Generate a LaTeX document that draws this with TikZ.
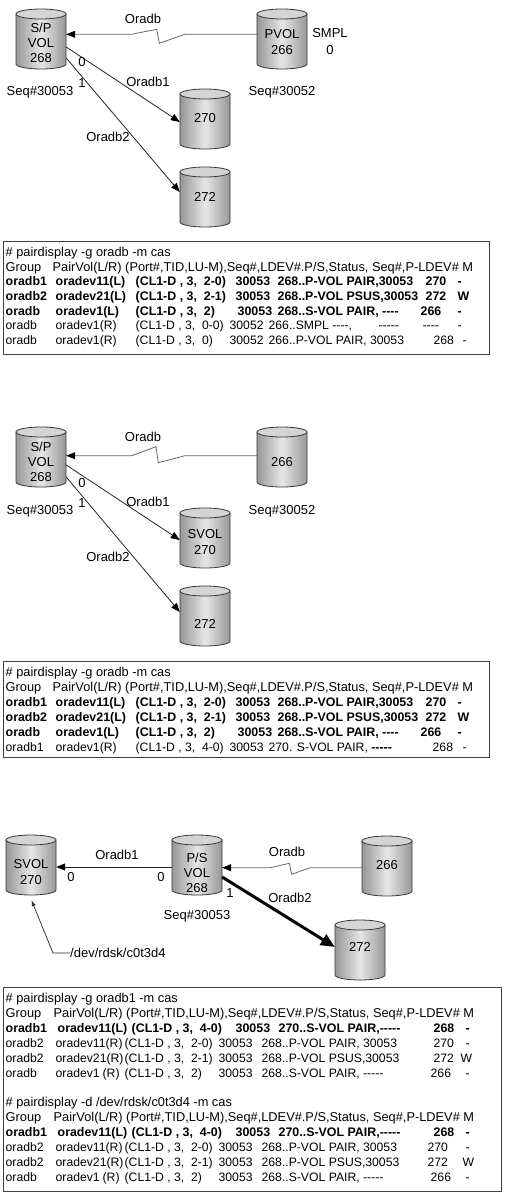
\documentclass[tikz,border=0pt]{standalone}
\usepackage{fontspec}
\setmainfont{Liberation Sans}
\usetikzlibrary{arrows.meta,calc}
\definecolor{cylside}{HTML}{979797}
\definecolor{cylmid}{HTML}{E6E6E6}
\definecolor{cyltop}{HTML}{D4D4D4}
\definecolor{cylline}{HTML}{383838}
\newcommand\tc[2]{\makebox[0pt][l]{\hspace*{\dimexpr#1pt-5pt\relax}#2}}
\newcommand\mkcyl[5]{%
  \shade[left color=cylside,right color=cylside,middle color=cylmid,draw=cylline,line width=0.8pt]
    (#2,#3+5) -- (#2,#3+55) arc[start angle=180,end angle=360,x radius=25pt,y radius=5pt] -- (#2+50,#3+5) -- cycle;
  \filldraw[fill=cyltop,draw=cylline,line width=0.8pt] (#2+25,#3+5) ellipse[x radius=25pt,y radius=5pt];
  \node[cylbox] (#1) at (#2+25,#3+30) {};
  \node[cyltext] (#1-t) at (#2+25,#3+30+#5) {#4};
}
\begin{document}
\begin{tikzpicture}[x=1pt,y=-1pt,
  cylbox/.style={rectangle,minimum width=50pt,minimum height=60pt,inner sep=0pt,draw=none},
  cyltext/.style={align=center,inner sep=0pt,font=\fontsize{13}{15.3}\selectfont},
  lbl/.style={inner sep=0pt,font=\fontsize{13}{15}\selectfont},
  trow/.style={anchor=west,inner sep=0pt,text height=9pt,text depth=0pt,font=\fontsize{12.8}{15}\selectfont},
  drow/.style={trow,font=\fontsize{12.2}{15}\selectfont},
  brow/.style={trow,font=\fontsize{12.4}{15}\selectfont\bfseries},
  tbox/.style={draw=black!75,line width=0.9pt},
  link/.style={draw=black!85,line width=0.8pt,-{Triangle[length=9pt,width=7pt,color=black]}},
  zlink/.style={draw=black!60,line width=0.8pt,-{Triangle[length=9pt,width=7pt,color=black]}},
  biglink/.style={draw=black,line width=3pt,-{Triangle[length=14pt,width=12pt]}},
  ptr/.style={draw=black!85,line width=0.7pt,-{Latex[length=6pt,width=4pt]}}]
\useasboundingbox (0,0) rectangle (505,1198);
\fill[white] (0,0) rectangle (505,1198);

% ================= diagram 1 =================
\mkcyl{A1}{16}{9}{S/P\\VOL\\268}{4}
\mkcyl{B1}{257}{9}{PVOL\\266}{3}
\mkcyl{C1}{180}{89}{270}{-1}
\mkcyl{D1}{180}{167}{272}{0}
\draw[zlink] ($(B1.west)+(0,-4.7)$) -- (185,34.3) -- (159.3,43.3) -- (156.7,29.3) -- (131.7,34.3) -- ($(A1.east)+(0,-4.7)$);
\draw[link] ($(A1.east)+(0,8)$) -- ($(C1.west)+(0,3)$);
\draw[link] ($(A1.east)+(0,19)$) -- ($(D1.west)+(0,-5)$);
\node[lbl] (l1a) at (143,19) {Oradb};
\node[lbl] (l1b) at (330,33) {SMPL};
\node[lbl] (l1c) at (330,50) {0};
\node[lbl] (l1d) at (82,62) {0};
\node[lbl] (l1e) at (82,83) {1};
\node[lbl] (l1f) at (148,82) {Oradb1};
\node[lbl] (l1g) at (108,137) {Oradb2};
\node[lbl] (l1h) at (40,92) {Seq\#30053};
\node[lbl] (l1i) at (282,92) {Seq\#30052};

% ================= table 1 =================
\draw[tbox] (3,241) rectangle (489,354);
\node[trow] (t1r1) at (5,252) {\tc{5}{\# pairdisplay -g oradb -m cas}};
\node[trow] (t1r2) at (5,266.7) {\tc{5}{Group}\tc{52}{PairVol(L/R) (Port\#,TID,LU-M),Seq\#,LDEV\#.P/S,Status, Seq\#,P-LDEV\# M}};
\node[brow] (t1r3) at (5,281.3) {\tc{5}{oradb1}\tc{55}{oradev11(L)}\tc{135}{(CL1-D , 3,~ 2-0)}\tc{235}{30053}\tc{277}{268..P-VOL PAIR,30053}\tc{425}{270}\tc{457}{-}};
\node[brow] (t1r4) at (5,296) {\tc{5}{oradb2}\tc{55}{oradev21(L)}\tc{135}{(CL1-D , 3,~ 2-1)}\tc{235}{30053}\tc{277}{268..P-VOL PSUS,30053}\tc{425}{272}\tc{457}{W}};
\node[brow] (t1r5) at (5,310.7) {\tc{5}{oradb}\tc{55}{oradev1(L)}\tc{135}{(CL1-D , 3,~ 2)}\tc{237}{30053}\tc{277}{268..S-VOL PAIR, -{}-{}-{}-}\tc{420}{266}\tc{457}{-}};
\node[drow] (t1r6) at (5,325.3) {\tc{5}{oradb}\tc{55}{oradev1(R)}\tc{135}{(CL1-D , 3,~ 0-0)}\tc{229}{30052}\tc{268}{266..SMPL -{}-{}-{}-,}\tc{378}{-{}-{}-{}-{}-}\tc{422}{-{}-{}-{}-}\tc{457}{-}};
\node[drow] (t1r7) at (5,340) {\tc{5}{oradb}\tc{55}{oradev1(R)}\tc{135}{(CL1-D , 3,~ 0)}\tc{229}{30052}\tc{268}{266..P-VOL PAIR, 30053}\tc{433}{268}\tc{462}{-}};

% ================= diagram 2 =================
\mkcyl{A2}{16}{427}{S/P\\VOL\\268}{5}
\mkcyl{B2}{257}{427}{266}{5}
\mkcyl{C2}{180}{508}{SVOL\\270}{4}
\mkcyl{D2}{180}{586}{272}{8}
\draw[zlink] ($(B2.west)+(0,-1.3)$) -- (185,455.7) -- (158.3,462.7) -- (156,446.7) -- (131.7,455.7) -- ($(A2.east)+(0,-1.3)$);
\draw[link] ($(A2.east)+(0,8)$) -- ($(C2.west)+(0,2)$);
\draw[link] ($(A2.east)+(0,20)$) -- ($(D2.west)+(0,-4)$);
\node[lbl] (l2a) at (143,437) {Oradb};
\node[lbl] (l2d) at (82,483) {0};
\node[lbl] (l2e) at (82,503) {1};
\node[lbl] (l2f) at (148,502) {Oradb1};
\node[lbl] (l2g) at (108,557) {Oradb2};
\node[lbl] (l2h) at (40,511) {Seq\#30053};
\node[lbl] (l2i) at (282,511) {Seq\#30052};

% ================= table 2 =================
\draw[tbox] (3,661) rectangle (489,757);
\node[trow] (t2r1) at (5,672) {\tc{5}{\# pairdisplay -g oradb -m cas}};
\node[trow] (t2r2) at (5,687) {\tc{5}{Group}\tc{52}{PairVol(L/R) (Port\#,TID,LU-M),Seq\#,LDEV\#.P/S,Status, Seq\#,P-LDEV\# M}};
\node[brow] (t2r3) at (5,702) {\tc{5}{oradb1}\tc{55}{oradev11(L)}\tc{135}{(CL1-D , 3,~ 2-0)}\tc{235}{30053}\tc{277}{268..P-VOL PAIR,30053}\tc{425}{270}\tc{457}{-}};
\node[brow] (t2r4) at (5,717) {\tc{5}{oradb2}\tc{55}{oradev21(L)}\tc{135}{(CL1-D , 3,~ 2-1)}\tc{235}{30053}\tc{277}{268..P-VOL PSUS,30053}\tc{425}{272}\tc{457}{W}};
\node[brow] (t2r5) at (5,732) {\tc{5}{oradb}\tc{55}{oradev1(L)}\tc{135}{(CL1-D , 3,~ 2)}\tc{237}{30053}\tc{277}{268..S-VOL PAIR, -{}-{}-{}-}\tc{420}{266}\tc{457}{-}};
\node[drow] (t2r6) at (5,747) {\tc{5}{oradb1}\tc{55}{oradev1(R)}\tc{135}{(CL1-D , 3,~ 4-0)}\tc{229}{30053}\tc{268}{270. S-VOL PAIR, {\fontsize{12.4}{15}\selectfont\bfseries -{}-{}-{}-{}-}}\tc{432}{268}\tc{462}{-}};

% ================= diagram 3 =================
\mkcyl{S3}{6}{835}{SVOL\\270}{7}
\mkcyl{P3}{172}{835}{P/S\\VOL\\268}{8}
\mkcyl{R3}{362}{836}{266}{-1}
\mkcyl{T3}{335}{920}{272}{-3}
\draw[link] ($(P3.west)+(0,2)$) -- ($(S3.east)+(0,2)$);
\draw[zlink] ($(R3.west)+(0,1.7)$) -- (310,867.7) -- (291.7,874.3) -- (289.3,863.3) -- (270,867.7) -- ($(P3.east)+(0,2.7)$);
\draw[biglink] ($(P3.east)+(0,12)$) -- ($(T3.west)+(0,-3)$);
\node[lbl,anchor=west] (dev) at (70,953) {/dev/rdsk/c0t3d4};
\coordinate (devk) at (53,953);
\draw[ptr] (dev.west) -- (devk) -- ($(S3.south)+(0.5,5)$);
\node[lbl] (l3a) at (117,855) {Oradb1};
\node[lbl] (l3b) at (71,877) {0};
\node[lbl] (l3c) at (161,877) {0};
\node[lbl] (l3d) at (287,852) {Oradb};
\node[lbl] (l3e) at (230,893) {1};
\node[lbl] (l3f) at (290,898) {Oradb2};
\node[lbl] (l3g) at (197,916) {Seq\#30053};

% ================= table 3 =================
\draw[tbox] (3,987) rectangle (501,1191);
\node[trow] (t3r1) at (5,998) {\tc{5}{\# pairdisplay -g oradb1 -m cas}};
\node[trow] (t3r2) at (5,1012.9) {\tc{5}{Group}\tc{53}{PairVol(L/R) (Port\#,TID,LU-M),Seq\#,LDEV\#.P/S,Status, Seq\#,P-LDEV\# M}};
\node[brow] (t3r3) at (5,1027.8) {\tc{5}{oradb1}\tc{57}{oradev11(L)}\tc{131}{(CL1-D , 3,~ 4-0)}\tc{235}{30053}\tc{278}{270..S-VOL PAIR,-{}-{}-{}-{}-}\tc{433}{268}\tc{465}{-}};
\node[drow] (t3r4) at (5,1042.7) {\tc{5}{oradb2}\tc{55}{oradev11(R)}\tc{124}{(CL1-D , 3,~ 2-0)}\tc{218}{30053}\tc{261}{268..P-VOL PAIR, 30053}\tc{433}{270}\tc{465}{-}};
\node[drow] (t3r5) at (5,1057.6) {\tc{5}{oradb2}\tc{55}{oradev21(R)}\tc{124}{(CL1-D , 3,~ 2-1)}\tc{218}{30053}\tc{261}{268..P-VOL PSUS,30053}\tc{433}{272}\tc{460}{W}};
\node[drow] (t3r6) at (5,1072.5) {\tc{5}{oradb}\tc{55}{oradev1}\tc{102}{(R)}\tc{124}{(CL1-D , 3,~ 2)}\tc{218}{30053}\tc{261}{268..S-VOL PAIR, -{}-{}-{}-{}-}\tc{430}{266}\tc{465}{-}};
\node[trow] (t3r8) at (5,1102.3) {\tc{5}{\# pairdisplay -d /dev/rdsk/c0t3d4 -m cas}};
\node[trow] (t3r9) at (5,1117.2) {\tc{5}{Group}\tc{53}{PairVol(L/R) (Port\#,TID,LU-M),Seq\#,LDEV\#.P/S,Status, Seq\#,P-LDEV\# M}};
\node[brow] (t3r10) at (5,1132.1) {\tc{5}{oradb1}\tc{57}{oradev11(L)}\tc{131}{(CL1-D , 3,~ 4-0)}\tc{235}{30053}\tc{278}{270..S-VOL PAIR,-{}-{}-{}-{}-}\tc{433}{268}\tc{465}{-}};
\node[drow] (t3r11) at (5,1147) {\tc{5}{oradb2}\tc{55}{oradev11(R)}\tc{124}{(CL1-D , 3,~ 2-0)}\tc{218}{30053}\tc{261}{268..P-VOL PAIR, 30053}\tc{427}{270}\tc{465}{-}};
\node[drow] (t3r12) at (5,1161.9) {\tc{5}{oradb2}\tc{55}{oradev21(R)}\tc{124}{(CL1-D , 3,~ 2-1)}\tc{218}{30053}\tc{261}{268..P-VOL PSUS,30053}\tc{427}{272}\tc{462}{W}};
\node[drow] (t3r13) at (5,1176.8) {\tc{5}{oradb}\tc{55}{oradev1}\tc{102}{(R)}\tc{124}{(CL1-D , 3,~ 2)}\tc{218}{30053}\tc{261}{268..S-VOL PAIR, -{}-{}-{}-{}-}\tc{430}{266}\tc{465}{-}};
\end{tikzpicture}
\end{document}
